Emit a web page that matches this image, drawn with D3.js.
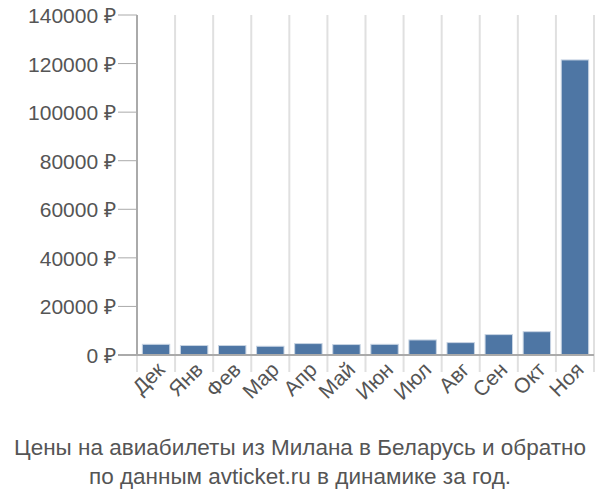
<!DOCTYPE html>
<html><head><meta charset="utf-8">
<script src="https://d3js.org/d3.v7.min.js"></script>
<style>body{margin:0;background:#fff}text{font-family:"Liberation Sans",Arial,sans-serif;fill:#555}</style>
</head><body><svg id="c" width="600" height="500"></svg>
<script>
// Data
var months = ["Дек","Янв","Фев","Мар","Апр","Май","Июн","Июл","Авг","Сен","Окт","Ноя"];
var prices = [4400,3900,3900,3600,4700,4300,4400,6200,5100,8400,9600,121500];
var yTicks = [0,20000,40000,60000,80000,100000,120000,140000];

var svg = d3.select("#c");
var pLeft = 137, pRight = 594, pTop = 15, pBottom = 355;

var x = d3.scaleBand().domain(months).range([pLeft, pRight]).paddingInner(0.28).paddingOuter(0.14);
var y = d3.scaleLinear().domain([0,140000]).range([pBottom, pTop]);
var step = x.step();

// vertical grid at band edges
svg.selectAll("line.vg").data(d3.range(months.length+1)).enter().append("line")
  .attr("x1", function(i){ return pLeft + i*step; }).attr("x2", function(i){ return pLeft + i*step; })
  .attr("y1", pTop).attr("y2", pBottom+17).attr("stroke","#e0e0e0").attr("stroke-width",2);

// y ticks
svg.selectAll("line.yt").data(yTicks).enter().append("line")
  .attr("x1",118).attr("x2",pLeft).attr("y1",function(d){return y(d);}).attr("y2",function(d){return y(d);})
  .attr("stroke","#aaa").attr("stroke-width",1);
svg.selectAll("text.yl").data(yTicks).enter().append("text")
  .attr("x",116).attr("y",function(d){return y(d)+8;}).attr("text-anchor","end")
  .attr("font-size",21).text(function(d){return d+" ₽";});

// bars
svg.selectAll("rect").data(prices).enter().append("rect")
  .attr("x",function(d,i){return x(months[i]);}).attr("width",x.bandwidth())
  .attr("y",function(d){return y(d);}).attr("height",function(d){return pBottom-y(d);})
  .attr("fill","#4e76a4").attr("stroke","#c8d4e3").attr("stroke-width",1);

// axes lines
svg.append("line").attr("x1",pLeft).attr("x2",pLeft).attr("y1",pTop).attr("y2",pBottom).attr("stroke","#aaa").attr("stroke-width",2);
svg.append("line").attr("x1",118).attr("x2",pRight).attr("y1",pBottom).attr("y2",pBottom).attr("stroke","#aaa").attr("stroke-width",2);

// x labels
svg.selectAll("text.xl").data(months).enter().append("text")
  .attr("transform",function(d){return "translate("+(x(d)+x.bandwidth()/2+10)+","+(pBottom+16)+") rotate(-45)";})
  .attr("text-anchor","end").attr("font-size",21).text(function(d){return d;});

// title
svg.append("text").attr("x",300).attr("y",455).attr("text-anchor","middle").attr("font-size",22.5)
  .text("Цены на авиабилеты из Милана в Беларусь и обратно");
svg.append("text").attr("x",300).attr("y",484).attr("text-anchor","middle").attr("font-size",22.5)
  .text("по данным avticket.ru в динамике за год.");
</script></body></html>
